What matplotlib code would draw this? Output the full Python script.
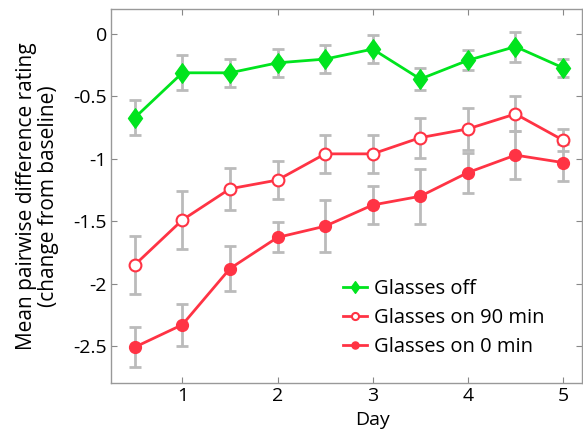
import matplotlib
matplotlib.use("Agg")
import matplotlib.pyplot as plt
from matplotlib.path import Path
import numpy as np

plt.rcParams['font.family'] = ['Open Sans', 'DejaVu Sans']

days = [0.5, 1, 1.5, 2, 2.5, 3, 3.5, 4, 4.5, 5]

off_mean = [-0.67, -0.31, -0.31, -0.23, -0.20, -0.12, -0.36, -0.21, -0.10, -0.27]
off_err = [0.14, 0.14, 0.11, 0.11, 0.11, 0.11, 0.09, 0.08, 0.12, 0.07]

on90_mean = [-1.85, -1.49, -1.24, -1.17, -0.96, -0.96, -0.83, -0.76, -0.64, -0.85]
on90_err = [0.23, 0.23, 0.17, 0.15, 0.15, 0.15, 0.16, 0.17, 0.14, 0.09]

on0_mean = [-2.51, -2.33, -1.88, -1.63, -1.54, -1.37, -1.30, -1.11, -0.97, -1.03]
on0_err = [0.16, 0.17, 0.18, 0.12, 0.21, 0.15, 0.22, 0.16, 0.19, 0.15]

labels = ["Glasses off", "Glasses on 90 min", "Glasses on 0 min"]
green = "#00e41e"
red = "#ff3344"
errc = "#bbbbbb"

diamond = Path([(0, 1), (0.72, 0), (0, -1), (-0.72, 0), (0, 1)],
               [Path.MOVETO, Path.LINETO, Path.LINETO, Path.LINETO, Path.CLOSEPOLY])

fig = plt.figure(figsize=(5.83, 4.32), dpi=100)
ax = fig.add_axes([0.1904, 0.1127, 0.808, 0.866])

for m, e in [(off_mean, off_err), (on90_mean, on90_err), (on0_mean, on0_err)]:
    ax.errorbar(days, m, yerr=e, fmt='none', ecolor=errc, elinewidth=2, capsize=4, capthick=2, zorder=1)

h1, = ax.plot(days, off_mean, '-', marker=diamond, color=green, lw=2, ms=14, mfc=green, mec=green, zorder=3, label=labels[0])
h2, = ax.plot(days, on90_mean, '-o', color=red, lw=2, ms=8.5, mfc='white', mec=red, mew=1.5, zorder=3, label=labels[1])
h3, = ax.plot(days, on0_mean, '-o', color=red, lw=2, ms=8.5, mfc=red, mec=red, zorder=3, label=labels[2])

ax.set_xlim(0.25, 5.2)
ax.set_ylim(-2.8, 0.2)
ax.set_xticks([1, 2, 3, 4, 5])
ax.set_yticks([0, -0.5, -1, -1.5, -2, -2.5])
ax.set_yticklabels(['0', '-0.5', '-1', '-1.5', '-2', '-2.5'])
ax.tick_params(direction='in', top=True, right=True, labelsize=14, length=4, color='#888888', pad=3)
for s in ax.spines.values():
    s.set_color('#999999')
    s.set_linewidth(1)

ax.set_xlabel('Day', fontsize=14)
ax.xaxis.set_label_coords(0.556, -0.075)
ax.set_ylabel('Mean pairwise difference rating\n(change from baseline)', fontsize=15, linespacing=1.1, labelpad=10)

leg = ax.legend(handles=[h1, h2, h3], loc='center left', bbox_to_anchor=(0.4926, 0.1745), frameon=False,
                fontsize=14.5, handlelength=1.2, handletextpad=0.35, labelspacing=0.45, markerscale=0.6,
                borderpad=0, borderaxespad=0)

fig.savefig('out.png', dpi=100)
